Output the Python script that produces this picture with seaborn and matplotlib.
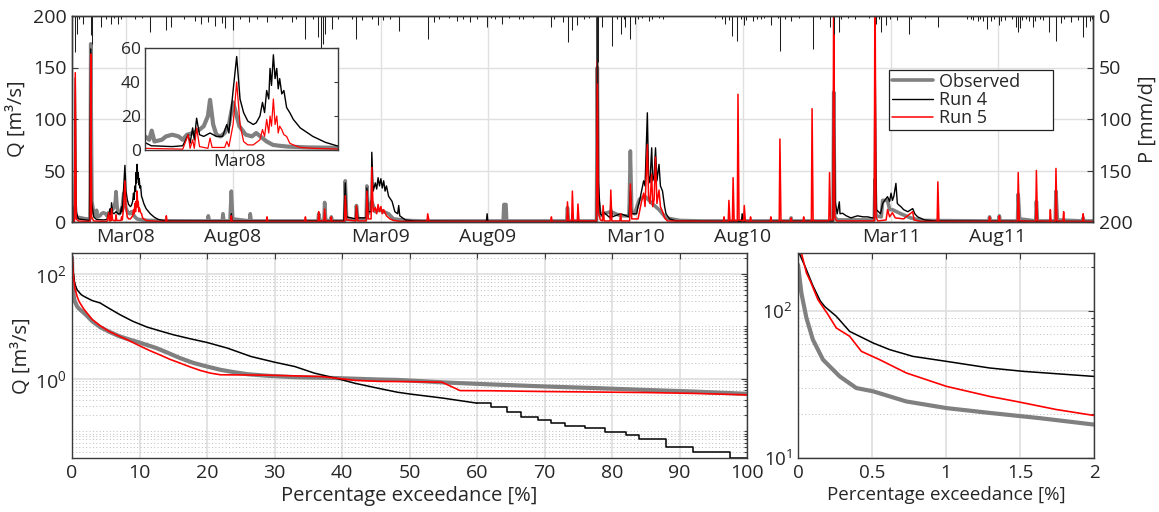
import numpy as np
import pandas as pd
import matplotlib
matplotlib.use('Agg')
import matplotlib.pyplot as plt
import matplotlib.dates as mdates
from matplotlib.ticker import FixedLocator, NullFormatter, FixedFormatter
import seaborn as sns

# ---------------- data ----------------
start_date = '2007-12-15'
series_days = 1461

# Observed discharge (day since start, m3/s)
obs_day = [0, 3.5, 4.7, 6, 20, 26, 26.8, 28.5, 31, 34, 35.2, 36.5, 40, 42, 45, 48, 50, 52, 55, 58, 60, 62, 63,
           64.5, 66, 68, 70, 72, 74, 75.7, 77, 80, 83, 85, 87, 90, 93, 96, 100, 110, 130, 194, 195, 196.5, 215,
           216, 217.5, 226, 228, 230, 254, 255, 256.5, 352, 353, 355, 360.5, 361.5, 363, 370, 371, 372.5, 390,
           391, 393, 406, 407, 409, 421, 422, 424, 429, 434, 440, 446, 453, 460, 480, 500, 617, 618, 621, 622,
           708, 709, 710.5, 750.5, 751.7, 753, 756, 760, 771, 785, 797, 799, 801, 805, 812, 820, 830, 840, 850,
           870, 900, 1028, 1029, 1030, 1089, 1090, 1091.5, 1095, 1148, 1149, 1150.5, 1158, 1160, 1167, 1170,
           1174, 1186, 1200, 1215, 1312, 1313, 1314, 1326, 1327, 1328, 1353, 1354, 1356, 1379, 1380, 1381.5,
           1407, 1408, 1410, 1446, 1447, 1448, 1461]
obs_q = [4, 4, 15, 5, 3, 3, 173, 20, 9, 6, 11.4, 5, 6, 8, 9, 8, 6, 9, 10, 12, 14, 20, 29.5,
         15, 9, 8, 10, 15, 28, 20, 14, 9, 8, 10, 8, 5, 3, 2.5, 2, 1.5, 1.2, 1, 6, 1, 1,
         8, 1, 1, 30, 3, 1, 8, 1, 1, 8, 1, 1, 19, 2, 1, 5, 1, 1,
         40, 3, 2, 16, 3, 3, 35, 8, 20, 10, 12, 10, 8, 3, 1.5, 1, 1, 17, 17, 1,
         1, 14, 1, 1, 150, 20, 6, 8, 10, 6, 6, 69, 10, 8, 22, 25, 18, 12, 4,
         1.5, 1, 1, 4, 1, 1, 126, 5, 2, 2, 41, 6, 5, 21, 21, 12,
         12, 8, 4, 1.5, 1, 5, 1, 1, 6, 1, 1, 27, 3, 1, 20, 1,
         1, 30, 2, 1, 4, 1, 1]

# Run 4
run4_day = [0, 3, 4.7, 6, 9, 25, 26.8, 28, 31, 35, 45, 50, 52.6, 53.5, 54.7, 55.5, 56.6, 58, 60, 63, 66, 69, 71,
            72, 74, 75.7, 77.3, 79, 81, 83.6, 85, 86.8, 88, 89, 90, 91, 91.6, 92.3, 93.2, 94, 94.8, 95.5, 96.2,
            97.2, 98.2, 99.5, 101, 102.7, 106, 112, 118, 123.4, 130, 140, 227, 228, 229, 389, 391, 393, 406,
            407, 409, 421, 422, 424, 428, 429, 431, 434, 436, 438, 440, 442, 444, 446, 448, 450, 453, 458, 462,
            466, 467.5, 469, 477, 490, 593, 594, 595, 750.5, 751.7, 753, 756, 759, 760, 770, 771, 773, 785,
            797, 799, 801, 808, 810, 812, 815, 818, 820, 823.3, 825, 827, 829.5, 831, 833, 835, 837, 840, 842,
            845, 848, 850, 855, 865, 958, 959, 960, 1089, 1090, 1092, 1095, 1098, 1099, 1102.6, 1108, 1114.6,
            1124, 1132, 1138.5, 1145, 1148, 1149, 1151, 1157, 1160, 1164, 1167, 1170, 1172, 1174, 1176, 1179,
            1181, 1184, 1186, 1190, 1196, 1203, 1206, 1210, 1220, 1235, 1461]
run4_q = [1, 1, 140, 10, 3, 1.5, 168, 20, 5, 2.5, 2, 2.5, 9, 4, 13, 6, 18.7, 9, 8, 10, 8, 8, 15,
          10, 35, 55, 30, 22, 17, 15, 16, 20, 28, 22, 35, 30, 48, 38, 56, 42, 48, 36, 42,
          33, 35, 25, 22, 18, 13, 8, 4.5, 2.5, 1.5, 1, 1, 8, 1, 1, 38, 5, 3,
          15, 4, 4, 33, 10, 10, 67.7, 30, 38, 32, 43, 35, 42, 33, 40, 30, 35, 25, 20, 10,
          8, 16, 6, 2, 1, 0.7, 8, 0.7, 0.7, 230, 40, 8, 6, 10, 4, 20, 5, 8,
          5, 30, 8, 8, 15, 20, 30, 40, 35, 106, 45, 38, 72, 40, 45, 72, 40, 56, 35,
          30, 15, 8, 3, 1, 0.7, 8, 0.7, 1, 150, 20, 8, 19.6, 8, 8.5, 6, 4,
          6, 5, 5, 4, 4, 180, 12, 8, 18, 22, 24.6, 20, 28, 21, 25, 37.5,
          18, 16, 15, 12, 10, 13, 8, 5, 2, 1, 0.5]

# Run 5
run5_day = [0, 3.5, 4.7, 6, 9, 26, 26.8, 28, 31, 50, 52.6, 53.5, 54.7, 55.5, 56.6, 58, 62, 63, 64, 70, 71, 72, 74,
            75.7, 77.3, 79, 81, 83.6, 86.8, 88, 89, 90, 91, 91.6, 92.3, 93.2, 94, 94.8, 95.5, 96.2, 97.2, 98.2,
            99.5, 101, 102.7, 106, 112, 125, 134, 135, 136, 227, 228, 229, 278, 279, 280, 333, 334, 335, 352,
            353, 354, 360.5, 361.5, 363, 370, 371, 372, 390, 391, 393, 406, 407, 409, 421, 422, 424, 428, 429,
            431, 434, 436, 438, 440, 442, 444, 446, 450, 455, 460, 470, 508, 509, 511, 685, 686, 687, 708, 709,
            710.5, 715, 716, 717.5, 723, 724, 725.5, 750.5, 751.7, 753, 756, 759, 760, 761.5, 770, 771, 772.5,
            784, 785, 786, 798, 799, 801, 810, 812, 815, 818, 820, 823.3, 825, 827, 829.5, 831, 833, 835, 837,
            840, 842, 845, 848, 852, 932, 933, 934, 939, 940, 941.5, 945, 946, 947.5, 952, 953, 954.5, 961, 962,
            963.5, 970, 971, 972, 999, 1000, 1001, 1012, 1013, 1014.5, 1028, 1029, 1030, 1046, 1047, 1048, 1058,
            1059, 1060.5, 1083, 1084, 1085.5, 1089, 1090, 1091.5, 1094, 1148, 1149, 1150.5, 1153, 1165, 1167,
            1170, 1174, 1178, 1190, 1203, 1205, 1215, 1238, 1239, 1240.5, 1312, 1313, 1314, 1326, 1327, 1328,
            1353, 1354, 1355.5, 1379, 1380, 1381.5, 1399, 1400, 1401, 1407, 1408, 1409.5, 1418, 1419, 1420,
            1446, 1447, 1448, 1461]
run5_q = [0.5, 0.5, 145, 3, 1, 0.5, 163, 5, 1, 0.5, 9, 1, 6, 1, 13, 2, 1, 7, 1.5, 1.5, 5, 2, 15,
          40, 15, 5, 3, 3, 6, 12, 8, 18, 10, 20, 14, 30, 15, 20, 10, 14, 12, 9,
          8, 4, 3, 1.5, 1, 0.5, 0.5, 6, 0.5, 0.5, 6, 0.5, 0.5, 5, 0.5, 0.5, 5, 0.5, 0.5,
          10, 1, 1, 12.6, 1, 0.5, 5, 0.5, 0.5, 25.5, 2, 1, 16, 1, 1, 30, 3, 3, 53,
          10, 14, 8, 17, 10, 15, 8, 12, 6, 3, 1.5, 0.5, 0.5, 8, 0.5, 0.5, 5, 0.5, 0.5, 19.6,
          1, 1, 30, 1, 1, 17.5, 1, 1, 157, 10, 2, 1, 16, 1, 1, 31, 1,
          1, 8, 1, 1, 37, 3, 3, 10, 20, 28, 15, 75, 25, 18, 46.6, 15, 22, 63, 18,
          31, 15, 10, 4, 1, 0.5, 5, 0.5, 0.5, 21, 1, 1, 43, 1, 1, 124, 2, 1, 16,
          1, 0.5, 5, 0.5, 0.5, 5, 0.5, 0.5, 80.6, 1, 0.5, 4, 0.5, 0.5, 5, 0.5, 0.5,
          110, 1, 1, 48, 2, 2, 260, 5, 1, 1, 260, 5, 1, 2, 12,
          5, 9, 4, 3, 10, 2, 0.5, 0.5, 39, 0.5, 0.5, 5, 0.5, 0.5, 6, 0.5,
          0.5, 48, 1, 0.5, 50, 1, 0.5, 12, 0.5, 0.5, 52, 1, 0.5, 10, 0.5,
          0.5, 8, 0.5, 0.5]

# Precipitation (day since start, mm/d)
precip_day = [3.8, 7.2, 10, 15.8, 27.7, 29.1, 42, 48, 56.3, 60, 65.9, 70, 90, 100, 111, 135, 142, 160, 176, 185,
              195, 204, 214, 219, 231, 240, 252.6, 265, 279, 290, 300, 315, 320, 333.8, 345, 352, 356, 359, 362,
              372, 380, 400, 407, 415, 430, 438, 445, 455, 468, 509, 518, 525, 540, 551, 560, 570, 580, 594, 600,
              605, 615, 625, 640, 646, 660, 685, 690, 702, 710, 716, 723, 732, 740, 751.5, 752.5, 759, 772, 780,
              785, 790, 792, 799, 805, 810, 815, 825, 830, 840, 845, 920, 930, 935, 940, 945, 952, 958, 962, 965,
              974, 980, 986, 990, 1000, 1010, 1013, 1020, 1029, 1040, 1060, 1070, 1085, 1090, 1098, 1100, 1110,
              1120, 1140, 1150, 1155, 1158, 1165, 1170, 1180, 1197, 1200, 1220, 1239, 1280, 1286, 1290, 1296,
              1300, 1303, 1310, 1315, 1320, 1326, 1329, 1335, 1345, 1351, 1354, 1357, 1360, 1365, 1370, 1375,
              1378, 1385, 1390, 1398, 1408, 1415, 1420, 1430, 1440, 1446, 1451, 1456, 1460]
precip_mm = [35, 17.5, 3, 8, 18, 27, 11, 3, 8, 2, 8, 3, 3, 2, 16, 14, 11, 3, 5, 8,
             6, 10, 7, 12, 14, 3, 6, 3, 6, 2, 3, 6, 3, 22, 3, 20, 32, 27, 17.5,
             12.6, 3, 3, 22, 4, 3, 9, 4, 3, 15, 22, 6, 3, 2, 5, 3, 6, 3, 11, 2,
             3, 8, 2, 3, 3, 2, 11, 3, 6, 25, 14, 9, 3, 2, 65, 45, 11, 29, 3,
             17.5, 3, 11, 22, 8, 3, 2, 4.5, 3, 2, 3, 2, 3, 8, 4, 19, 24, 3, 9, 4,
             5, 3, 3, 2, 9, 2, 34, 3, 5, 2, 32, 3, 11, 17.5, 16, 3, 2,
             3, 2, 8, 3, 16, 9, 3, 4, 17.5, 3, 2, 11, 3, 3, 4, 5,
             3, 5, 12.6, 5, 3, 9, 5, 4, 3, 11, 16, 12, 4, 3, 5, 11,
             5, 3, 4, 16, 24, 7, 3, 6, 4, 20.7, 11, 5, 3]

# Flow duration curves (percentage exceedance, Q)
obs_fdc_pct = [0, 0.023, 0.057, 0.101, 0.169, 0.282, 0.394, 0.507, 0.732, 1.003, 1.295, 1.633, 2.0, 3.0, 4.15,
               5.5, 7.1, 8.5, 10, 12.5, 14, 16, 18, 20, 22, 23.9, 26, 28.9, 33, 39, 45, 48.2, 55.5, 62, 70.3,
               78, 85.1, 92, 100]
obs_fdc_q = [208, 133, 90, 64, 46.8, 36, 30, 28.5, 24.3, 21.9, 20.3, 18.7, 16.9, 12.5, 9.7,
             7.9, 6.4, 5.6, 4.9, 3.85, 3.2, 2.48, 2.0, 1.71, 1.48, 1.34, 1.22, 1.14, 1.07, 1.03, 0.97, 0.95,
             0.845, 0.78, 0.71, 0.66, 0.61, 0.57, 0.515]

run4_fdc_pct = [0, 0.05, 0.1, 0.15, 0.18, 0.259, 0.349, 0.507, 0.62, 0.777, 1.003, 1.295, 1.52, 2.0, 3.0, 4.15,
                5.5, 7.1, 9, 11.1, 13, 15.03, 17.5, 20, 23, 26.5, 30, 33, 35.9, 39, 41.9, 45.3, 48.2, 50.1, 55,
                60]
run4_fdc_q = [260, 200, 150, 118, 108, 92.5, 73, 60.9, 54.8, 49.3, 45.6, 41.1, 39, 36, 31, 28,
              22, 16.7, 12.5, 9.7, 8.2, 6.9, 5.8, 4.92, 3.85, 2.66, 2.07, 1.71, 1.28, 1.03, 0.82, 0.66, 0.553,
              0.51, 0.426, 0.342]
run4_step_pct = [60, 62, 64.5, 66.5, 69, 71, 73, 76, 79, 82, 84, 88, 92, 97.5, 100]
run4_step_q = [0.342, 0.29, 0.236, 0.189, 0.163, 0.145, 0.126, 0.1135, 0.098, 0.0847, 0.070, 0.0505, 0.0394,
               0.0303, 0.0303]

run5_fdc_pct = [0, 0.023, 0.057, 0.084, 0.135, 0.203, 0.259, 0.349, 0.428, 0.552, 0.732, 1.003, 1.295, 1.475,
                1.746, 2.0, 3.0, 4.15, 5.5, 7.1, 8.5, 10, 11.5, 13, 14.5, 16, 17.5, 19, 20.5, 22, 28.9, 37, 42,
                45.6, 50, 54.8, 57.5, 62, 70.3, 78, 85, 92, 100]
run5_fdc_q = [300, 250, 183, 160, 120, 95, 77, 67.6, 53.4, 46.8, 38, 30.8, 26.3, 24.3,
              21.4, 19.5, 13.5, 10.3, 8.0, 6.4, 5.3, 4.26, 3.45, 2.86, 2.35, 1.99, 1.68, 1.44, 1.28, 1.19, 1.17,
              1.10, 0.93, 0.89, 0.88, 0.86, 0.594, 0.59, 0.569, 0.557, 0.545, 0.525, 0.492]

date_ticks = ['2008-03-01', '2008-08-01', '2009-03-01', '2009-08-01', '2010-03-01', '2010-08-01',
              '2011-03-01', '2011-08-01']
legend_labels = ['Observed', 'Run 4', 'Run 5']

# ---------------- style ----------------
sns.set_style('white')
plt.rcParams['font.family'] = ['Open Sans', 'DejaVu Sans']
plt.rcParams['mathtext.fontset'] = 'custom'
plt.rcParams['mathtext.rm'] = 'Open Sans'
plt.rcParams['axes.edgecolor'] = '#3a3a3a'
plt.rcParams['axes.linewidth'] = 1.0

C_OBS, C_R4, C_R5 = '#808080', '#000000', '#ff0000'
GRID = '#e0e0e0'

W, H = 1159, 512
fig = plt.figure(figsize=(W / 100, H / 100), dpi=100)


def box(l, t, r, b):
    return [l / W, 1 - b / H, (r - l) / W, (b - t) / H]


start = pd.Timestamp(start_date)


def to_dates(days):
    return start + pd.to_timedelta(np.asarray(days, dtype=float), unit='D')


obs_dates, run4_dates, run5_dates = to_dates(obs_day), to_dates(run4_day), to_dates(run5_day)

# ---------------- top time series ----------------
ax = fig.add_axes(box(72, 16, 1093, 222))
sns.lineplot(x=obs_dates, y=obs_q, ax=ax, color=C_OBS, linewidth=2.6, estimator=None, sort=False,
             label=legend_labels[0])
sns.lineplot(x=run4_dates, y=run4_q, ax=ax, color=C_R4, linewidth=1.0, estimator=None, sort=False,
             label=legend_labels[1])
sns.lineplot(x=run5_dates, y=run5_q, ax=ax, color=C_R5, linewidth=1.1, estimator=None, sort=False,
             label=legend_labels[2])
if ax.get_legend() is not None:
    ax.get_legend().remove()
ax.set_xlim(start, start + pd.Timedelta(days=series_days))
ax.set_ylim(0, 200)
ax.set_yticks([0, 50, 100, 150, 200])
ax.set_xticks(pd.to_datetime(date_ticks))
ax.xaxis.set_major_formatter(mdates.DateFormatter('%b%y'))
ax.grid(True, color=GRID, lw=1.0)
ax.set_axisbelow(True)
ax.tick_params(direction='in', length=4, width=0.8, color='#3a3a3a', labelsize=14, pad=4)
ax.set_ylabel('Q [m³/s]', fontsize=14.5, labelpad=4)
ax.set_xlabel('')

ax2 = ax.twinx()
ax2.vlines(to_dates(precip_day), 0, precip_mm, color='#1e1e1e', lw=0.75)
ax2.set_ylim(200, 0)
ax2.set_yticks([0, 50, 100, 150, 200])
ax2.tick_params(direction='in', length=4, width=0.8, color='#3a3a3a', labelsize=14, pad=4)
ax2.set_ylabel('P [mm/d]', fontsize=14.5, labelpad=4)
ax2.set_xlim(ax.get_xlim())

handles, _ = ax.get_legend_handles_labels()
padded = [lab + '\u2007' * 3 for lab in legend_labels]
leg = ax2.legend(handles, padded, loc='upper left', bbox_to_anchor=(889 / W, 1 - 70 / H),
                 bbox_transform=fig.transFigure, fontsize=13, frameon=True, fancybox=False,
                 edgecolor='#222222', framealpha=1, borderpad=0.15, labelspacing=0.02,
                 handlelength=2.3, handletextpad=0.3, borderaxespad=0)
leg.get_frame().set_linewidth(0.9)

# ---------------- inset ----------------
axin = fig.add_axes(box(145, 48, 338, 150))
sns.lineplot(x=obs_dates, y=obs_q, ax=axin, color=C_OBS, linewidth=3.0, estimator=None, sort=False)
sns.lineplot(x=run4_dates, y=run4_q, ax=axin, color=C_R4, linewidth=1.0, estimator=None, sort=False)
sns.lineplot(x=run5_dates, y=run5_q, ax=axin, color=C_R5, linewidth=0.9, estimator=None, sort=False)
axin.set_xlim(start + pd.Timedelta(days=32), start + pd.Timedelta(days=124))
axin.set_ylim(0, 60)
axin.set_yticks([0, 20, 40, 60])
axin.set_xticks(pd.to_datetime(['2008-03-01']))
axin.xaxis.set_major_formatter(mdates.DateFormatter('%b%y'))
axin.grid(True, axis='x', color=GRID, lw=1.0)
axin.set_axisbelow(True)
axin.tick_params(direction='in', length=3, width=0.8, color='#3a3a3a', labelsize=12.5, pad=3,
                 right=True)
axin.set_xlabel('')
axin.set_ylabel('')


# ---------------- flow duration curves ----------------
def style_log(a, majors, labels_, lo, hi, fs):
    a.set_yscale('log')
    a.set_ylim(lo, hi)
    minors = [k * 10.0 ** d for d in range(-3, 4) for k in range(1, 10)
              if lo <= k * 10.0 ** d <= hi and not any(np.isclose(k * 10.0 ** d, m) for m in majors)]
    a.yaxis.set_major_locator(FixedLocator(majors))
    a.yaxis.set_major_formatter(FixedFormatter(labels_))
    a.yaxis.set_minor_locator(FixedLocator(minors))
    a.yaxis.set_minor_formatter(NullFormatter())
    a.grid(True, which='major', color=GRID, lw=1.3)
    a.grid(True, which='minor', axis='y', color='#bdbdbd', lw=0.7, linestyle=(0, (1, 2.5)))
    a.set_axisbelow(True)
    a.tick_params(which='both', direction='in', width=0.8, color='#3a3a3a', labelsize=fs, right=True,
                  top=True, pad=4)
    a.tick_params(which='major', length=4)
    a.tick_params(which='minor', length=2.5)


axl = fig.add_axes(box(72, 253, 747, 458))
axr = fig.add_axes(box(798, 253, 1094, 458))
for a in (axl, axr):
    sns.lineplot(x=obs_fdc_pct, y=obs_fdc_q, ax=a, color=C_OBS, linewidth=3.0, estimator=None, sort=False)
    sns.lineplot(x=run4_fdc_pct, y=run4_fdc_q, ax=a, color=C_R4, linewidth=1.1, estimator=None, sort=False)
    sns.lineplot(x=run4_step_pct, y=run4_step_q, ax=a, color=C_R4, linewidth=1.1, estimator=None, sort=False,
                 drawstyle='steps-post')
    sns.lineplot(x=run5_fdc_pct, y=run5_fdc_q, ax=a, color=C_R5, linewidth=1.2, estimator=None, sort=False)

style_log(axl, [1, 100], [r'$\mathdefault{10^{0}}$', r'$\mathdefault{10^{2}}$'], 0.0307, 251, 14)
axl.set_xlim(0, 100)
axl.set_xticks(range(0, 101, 10))
axl.set_xlabel('Percentage exceedance [%]', fontsize=14.5, labelpad=3)
axl.set_ylabel('Q [m³/s]', fontsize=14.5, labelpad=2)

style_log(axr, [10, 100], [r'$\mathdefault{10^{1}}$', r'$\mathdefault{10^{2}}$'], 10, 250, 13.5)
axr.set_xlim(0, 2)
axr.set_xticks([0, 0.5, 1, 1.5, 2])
axr.set_xticklabels(['0', '0.5', '1', '1.5', '2'])
axr.set_xlabel('Percentage exceedance [%]', fontsize=13.5, labelpad=3)
axr.set_ylabel('')

fig.savefig('out.png', dpi=100)
